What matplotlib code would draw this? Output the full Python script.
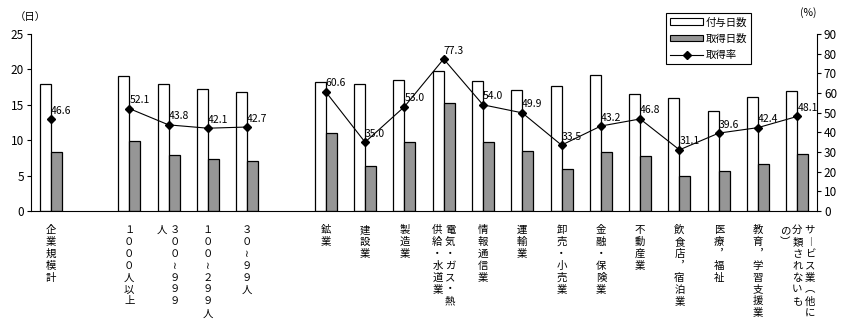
import numpy as np
import matplotlib
matplotlib.use("Agg")
import matplotlib.pyplot as plt
from matplotlib.patches import Patch
from matplotlib.lines import Line2D

plt.rcParams["font.family"] = ["Noto Sans CJK JP", "DejaVu Sans"]

nan = np.nan

# None marks a blank slot on the category axis; "\n" starts a new (left) column
categories = [
    "企業規模計", None,
    "１０００人以上", "３００～９９９\n人", "１００～２９９人", "３０～９９人", None,
    "鉱業", "建設業", "製造業", "電気・ガス・熱\n供給・水道業", "情報通信業",
    "運輸業", "卸売・小売業", "金融・保険業", "不動産業", "飲食店，宿泊業",
    "医療，福祉", "教育，学習支援業", "サービス業（他に\n分類されないも\nの）",
]
granted = [17.9, nan, 19.0, 17.9, 17.2, 16.8, nan,
           18.2, 18.0, 18.5, 19.8, 18.4, 17.1, 17.6, 19.2, 16.5, 15.9, 14.1, 16.1, 17.0]
taken = [8.3, nan, 9.9, 7.9, 7.3, 7.1, nan,
         11.0, 6.3, 9.8, 15.2, 9.8, 8.5, 5.9, 8.3, 7.7, 4.9, 5.6, 6.7, 8.0]
rate = [46.6, nan, 52.1, 43.8, 42.1, 42.7, nan,
        60.6, 35.0, 53.0, 77.3, 54.0, 49.9, 33.5, 43.2, 46.8, 31.1, 39.6, 42.4, 48.1]

series_names = ["付与日数", "取得日数", "取得率"]

# vertical-writing forms
VERT = {"～": "≀", "（": "︵", "）": "︶", "，": "︐", "ー": "︱"}

FS = 7.5
GRAY = "#969696"

fig = plt.figure(figsize=(8.44, 3.24), dpi=100)
ax = fig.add_axes([31 / 844, 1 - 211 / 324, (817 - 31) / 844, (211 - 34) / 324])
ax2 = ax.twinx()

x = np.arange(len(categories))
w = 0.28
ax.bar(x - w / 2, granted, w, color="white", edgecolor="black", lw=0.9, zorder=2)
ax.bar(x + w / 2, taken, w, color=GRAY, edgecolor="black", lw=0.9, zorder=2)

ax2.plot(x, rate, color="black", lw=0.8, marker="D", ms=4.5, zorder=3)
for xi, v in zip(x, rate):
    if np.isnan(v):
        continue
    ax2.annotate(f"{v:.1f}", (xi, v), xytext=(0, 2.5), textcoords="offset points",
                 ha="left", va="bottom", fontsize=FS)

ax.set_xlim(-0.5, len(categories) - 0.5)
ax.set_ylim(0, 25)
ax.set_yticks(np.arange(0, 26, 5))
ax2.set_ylim(0, 90)
ax2.set_yticks(np.arange(0, 91, 10))
ax.set_xticks([])

for a in (ax, ax2):
    a.spines["top"].set_visible(False)
    a.tick_params(axis="y", labelsize=FS + 1, length=3, width=0.8, direction="out", pad=2)
ax.spines["right"].set_visible(False)
ax2.spines["left"].set_visible(False)
ax2.spines["bottom"].set_visible(False)
for s in ("left", "bottom"):
    ax.spines[s].set_linewidth(0.8)
ax2.spines["right"].set_linewidth(0.8)

# vertical category labels, columns laid out right to left
col_gap = 9  # points between columns
for xi, lab in zip(x, categories):
    if lab is None:
        continue
    cols = lab.split("\n")
    n = len(cols)
    for j, col in enumerate(cols):
        txt = "\n".join(VERT.get(c, c) for c in col)
        dx = ((n - 1) / 2 - j) * col_gap
        ax.annotate(txt, (xi, 0), xycoords=("data", "axes fraction"),
                    xytext=(dx, -10), textcoords="offset points",
                    ha="center", va="top", fontsize=FS, linespacing=1.24)

fig.text(30 / 844, 1 - 17 / 324, "（日）", ha="center", va="center", fontsize=FS)
fig.text(808 / 844, 1 - 13 / 324, "(%)", ha="center", va="center", fontsize=FS)

handles = [Patch(facecolor="white", edgecolor="black", lw=0.8),
           Patch(facecolor=GRAY, edgecolor="black", lw=0.8),
           Line2D([], [], color="black", lw=0.8, marker="D", ms=4)]
leg = fig.legend(handles, series_names, loc="upper right",
                 bbox_to_anchor=(751 / 844, 1 - 13 / 324), fontsize=FS,
                 fancybox=False, framealpha=1, edgecolor="black",
                 handlelength=3.2, handleheight=0.6, handletextpad=0.2,
                 labelspacing=0.6, borderpad=0.4, borderaxespad=0)
leg.get_frame().set_linewidth(0.8)

fig.savefig("out.png", dpi=100)
